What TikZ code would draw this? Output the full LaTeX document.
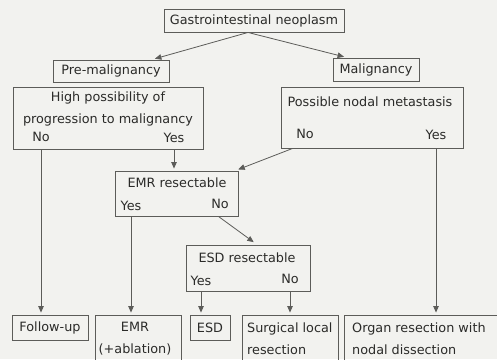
\documentclass[tikz,border=0pt]{standalone}
\usepackage{fontspec}
\setmainfont{DejaVu Sans}
\usetikzlibrary{arrows.meta, calc, positioning}
\definecolor{paper}{HTML}{F2F2EF}
\definecolor{ink}{HTML}{2B2B29}
\definecolor{edge}{HTML}{5C5C59}
\tikzset{
  box/.style={draw=edge, line width=0.9pt, rectangle, inner sep=0pt},
  lbl/.style={text=ink, font=\fontsize{12.8}{22}\selectfont, inner sep=0pt},
  arr/.style={draw=edge, line width=0.8pt, -{Triangle[length=6.5pt,width=5.5pt]}, shorten >=2pt}
}

\begin{document}
\begin{tikzpicture}[x=1pt, y=-1pt]
  \clip (0,0) rectangle (497,359);
  \fill[paper] (0,0) rectangle (497,359);

  \node[box, lbl, minimum width=180pt, minimum height=23pt] (gastro) at (254,20.5) {Gastrointestinal neoplasm};
  \node[box, lbl, minimum width=116pt, minimum height=22pt] (pre) at (111,71) {Pre-malignancy};
  \node[box, lbl, minimum width=86pt, minimum height=23pt] (mal) at (376,69.5) {Malignancy};

  \node[box, minimum width=190pt, minimum height=62pt] (hp) at (108,118) {};
  \node[lbl, align=center] (hptxt) at (108,108.5) {High possibility of\\progression to malignancy};
  \node[lbl] (hpno) at (41,137) {No};
  \node[lbl] (hpyes) at (174,138) {Yes};

  \node[box, minimum width=182pt, minimum height=61pt] (pnm) at (372,117.5) {};
  \node[lbl] (pnmtxt) at (370,102) {Possible nodal metastasis};
  \node[lbl] (pnmno) at (305,134) {No};
  \node[lbl] (pnmyes) at (436,135) {Yes};

  \node[box, minimum width=123pt, minimum height=45pt] (emr) at (176.5,193.5) {};
  \node[lbl] (emrtxt) at (177,183) {EMR resectable};
  \node[lbl] (emryes) at (131,205.5) {Yes};
  \node[lbl] (emrno) at (220,204) {No};

  \node[box, minimum width=124pt, minimum height=46pt] (esd) at (248,268) {};
  \node[lbl] (esdtxt) at (247,258) {ESD resectable};
  \node[lbl] (esdyes) at (201,280.5) {Yes};
  \node[lbl] (esdno) at (290,279) {No};

  \node[box, lbl, minimum width=76pt, minimum height=25pt] (fu) at (50,327.5) {Follow-up};
  \node[box, minimum width=86pt, minimum height=56pt] (emra) at (138,343) {};
  \node[lbl, align=center] (emratxt) at (135,338.5) {EMR\\(+ablation)};
  \node[box, lbl, minimum width=40pt, minimum height=25pt] (esdb) at (210,327.5) {ESD};
  \node[box, minimum width=96pt, minimum height=56pt] (slr) at (290,343) {};
  \node[lbl, align=left, anchor=west] (slrtxt) at (247,338.5) {Surgical local\\resection};
  \node[box, minimum width=166pt, minimum height=56pt] (org) at (427,343) {};
  \node[lbl, align=left, anchor=west] (orgtxt) at (352,338.5) {Organ resection with\\nodal dissection};

  \draw[arr, shorten >=3pt] ([xshift=-6pt]gastro.south) -- ([xshift=41pt]pre.north);
  \draw[arr, shorten >=3pt] ([xshift=-6pt]gastro.south) -- ([xshift=-29pt]mal.north);
  \draw[arr] (hp.south -| hpyes) -- (emr.north -| hpyes);
  \draw[arr, shorten >=3pt] ([xshift=12pt]pnm.south west) -- ([xshift=-3pt]emr.north east);
  \draw[arr] (hp.south -| hpno) -- (fu.north -| hpno);
  \draw[arr] (emr.south -| emryes) -- (emra.north -| emryes);
  \draw[arr, shorten >=4pt] ([xshift=-20pt]emr.south east) -- ([xshift=9pt]esd.north);
  \draw[arr] (esd.south -| esdyes) -- (esdb.north -| esdyes);
  \draw[arr] (esd.south -| esdno) -- (slr.north -| esdno);
  \draw[arr] (pnm.south -| pnmyes) -- (org.north -| pnmyes);
\end{tikzpicture}
\end{document}
